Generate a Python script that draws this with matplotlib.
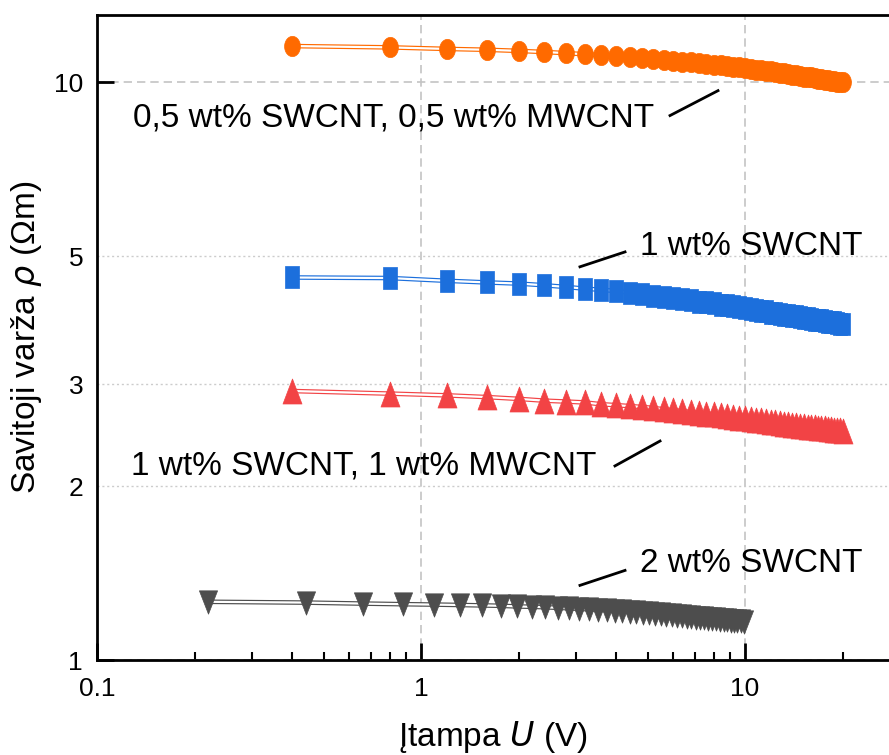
import numpy as np
import matplotlib
matplotlib.use("Agg")
import matplotlib.pyplot as plt
from matplotlib.path import Path
from matplotlib.ticker import FixedLocator, FixedFormatter, NullFormatter

plt.rcParams['font.family'] = ['Liberation Sans', 'DejaVu Sans']

# Voltage sweeps (V)
u_04 = [0.4, 0.8, 1.2, 1.6, 2.0, 2.4, 2.8, 3.2, 3.6, 4.0,
        4.4, 4.8, 5.2, 5.6, 6.0, 6.4, 6.8, 7.2, 7.6, 8.0,
        8.4, 8.8, 9.2, 9.6, 10.0, 10.4, 10.8, 11.2, 11.6, 12.0,
        12.4, 12.8, 13.2, 13.6, 14.0, 14.4, 14.8, 15.2, 15.6, 16.0,
        16.4, 16.8, 17.2, 17.6, 18.0, 18.4, 18.8, 19.2, 19.6, 20.0]
u_022 = [0.22, 0.44, 0.66, 0.88, 1.10, 1.32, 1.54, 1.76, 1.98, 2.20,
         2.42, 2.64, 2.86, 3.08, 3.30, 3.52, 3.74, 3.96, 4.18, 4.40,
         4.62, 4.84, 5.06, 5.28, 5.50, 5.72, 5.94, 6.16, 6.38, 6.60,
         6.82, 7.04, 7.26, 7.48, 7.70, 7.92, 8.14, 8.36, 8.58, 8.80,
         9.02, 9.24, 9.46, 9.68, 9.90]

# Bending resistivity (Ohm m)
rho_05_05 = [11.54, 11.48, 11.41, 11.37, 11.32, 11.27, 11.22, 11.17, 11.13, 11.08,
             11.04, 11.00, 10.95, 10.91, 10.88, 10.84, 10.81, 10.78, 10.75, 10.72,
             10.69, 10.66, 10.63, 10.60, 10.57, 10.54, 10.51, 10.48, 10.45, 10.43,
             10.40, 10.37, 10.35, 10.32, 10.30, 10.27, 10.25, 10.22, 10.20, 10.19,
             10.17, 10.14, 10.12, 10.10, 10.08, 10.06, 10.04, 10.02, 10.00, 9.99]
rho_1sw = [4.59, 4.58, 4.53, 4.50, 4.48, 4.45, 4.42, 4.39, 4.37, 4.35,
           4.32, 4.30, 4.27, 4.25, 4.23, 4.21, 4.19, 4.17, 4.16, 4.14,
           4.12, 4.11, 4.09, 4.08, 4.06, 4.05, 4.03, 4.02, 4.01, 3.99,
           3.98, 3.97, 3.96, 3.95, 3.94, 3.93, 3.92, 3.91, 3.90, 3.89,
           3.88, 3.87, 3.87, 3.86, 3.85, 3.84, 3.84, 3.83, 3.82, 3.82]
rho_1_1 = [2.92, 2.89, 2.87, 2.85, 2.83, 2.81, 2.80, 2.79, 2.77, 2.76,
           2.75, 2.74, 2.73, 2.715, 2.705, 2.695, 2.685, 2.675, 2.665, 2.66,
           2.65, 2.64, 2.635, 2.625, 2.62, 2.61, 2.605, 2.60, 2.59, 2.585,
           2.58, 2.57, 2.565, 2.56, 2.555, 2.55, 2.545, 2.54, 2.535, 2.53,
           2.525, 2.52, 2.52, 2.515, 2.51, 2.505, 2.50, 2.50, 2.495, 2.49]
rho_2sw = [1.261, 1.257, 1.252, 1.249, 1.247, 1.245, 1.243, 1.241, 1.238, 1.236,
           1.234, 1.231, 1.229, 1.226, 1.224, 1.222, 1.219, 1.217, 1.214, 1.212,
           1.209, 1.207, 1.204, 1.202, 1.199, 1.197, 1.194, 1.192, 1.190, 1.188,
           1.186, 1.184, 1.183, 1.181, 1.179, 1.178, 1.176, 1.175, 1.173, 1.172,
           1.170, 1.169, 1.167, 1.166, 1.165]

labels = ["0,5 wt% SWCNT, 0,5 wt% MWCNT", "1 wt% SWCNT",
          "1 wt% SWCNT, 1 wt% MWCNT", "2 wt% SWCNT"]
colors = ["#FF6A00", "#1C6FDC", "#F24345", "#4D4D4D"]

xticks = [0.1, 1, 10]
xticklabels = ["0.1", "1", "10"]
yticks_major = [1, 10]
yticks_minor = [2, 3, 5]


def ellipse_marker(aspect):
    t = np.linspace(0, 2 * np.pi, 48)
    return Path(np.column_stack([aspect * np.cos(t), np.sin(t)]), closed=True)


def rect_marker(aspect):
    return Path([(-aspect, -1), (aspect, -1), (aspect, 1), (-aspect, 1), (-aspect, -1)],
                closed=True)


def tri_marker(aspect, up=True):
    s = 1 if up else -1
    return Path([(0, s), (-aspect, -s), (aspect, -s), (0, s)], closed=True)


markers = [ellipse_marker(0.78), rect_marker(0.64), tri_marker(0.76, True),
           tri_marker(0.78, False)]
msizes = [14.6, 16.5, 18.0, 16.8]

W, H = 889, 755
fig = plt.figure(figsize=(W / 100, H / 100), dpi=100)
ax = fig.add_axes([97 / W, (H - 660) / H, 792 / W, (660 - 15) / H])
ax.set_xscale('log')
ax.set_yscale('log')
ax.set_xlim(0.1, 27.8)
ax.set_ylim(1, 13.06)

series = [(u_04, rho_05_05), (u_04, rho_1sw), (u_04, rho_1_1), (u_022, rho_2sw)]
for (u, r), c, m, ms in zip(series, colors, markers, msizes):
    # double connecting line: coloured stroke with a white core
    ax.plot(u, r, color=c, lw=3.3, zorder=2, solid_capstyle='butt')
    ax.plot(u, r, color='white', lw=1.6, zorder=2.1, solid_capstyle='butt')
    ax.plot(u, r, ls='none', marker=m, ms=ms, color=c, mec=c, mew=0.5, zorder=3)

# Axis styling
for side in ['left', 'bottom', 'top']:
    ax.spines[side].set_linewidth(2)
ax.spines['right'].set_visible(False)

ax.xaxis.set_major_locator(FixedLocator(xticks))
ax.xaxis.set_major_formatter(FixedFormatter(xticklabels))
ax.xaxis.set_minor_locator(FixedLocator([k * 10.0 ** e for e in (-1, 0, 1) for k in range(2, 10)]))
ax.xaxis.set_minor_formatter(NullFormatter())
ax.yaxis.set_major_locator(FixedLocator(yticks_major))
ax.yaxis.set_major_formatter(FixedFormatter([str(v) for v in yticks_major]))
ax.yaxis.set_minor_locator(FixedLocator(yticks_minor))
ax.yaxis.set_minor_formatter(FixedFormatter([str(v) for v in yticks_minor]))

ax.tick_params(axis='x', which='major', direction='in', length=12, width=2,
               labelsize=19, pad=12, top=False)
ax.tick_params(axis='x', which='minor', direction='in', length=6, width=1.5, top=False)
ax.tick_params(axis='y', which='major', direction='in', length=12, width=2,
               labelsize=19, pad=10, right=False)
ax.tick_params(axis='y', which='minor', direction='in', length=0, width=0,
               labelsize=19, pad=10, right=False)

ax.grid(True, which='major', axis='both', color='#C4C4C4', lw=1.2, ls=(0, (5, 3)))
ax.grid(True, which='minor', axis='y', color='#CCCCCC', lw=1.0, ls=(0, (1.5, 2)))
ax.grid(False, which='minor', axis='x')
ax.set_axisbelow(True)

ax.set_xlabel("Įtampa $\\mathit{U}$ (V)", fontsize=24, labelpad=13)
ax.set_ylabel("Savitoji varža $\\mathit{\\rho}$ (Ωm)", fontsize=24, labelpad=7)

# Series labels with leader lines (axes-fraction coordinates)
label_pos = [(0.0455, 0.841), (0.6856, 0.6404), (0.0429, 0.3009), (0.6856, 0.1497)]
leaders = [((0.7235, 0.8441), (0.7841, 0.8827)),
           ((0.6098, 0.6096), (0.6667, 0.6327)),
           ((0.6540, 0.3009), (0.7109, 0.3395)),
           ((0.6098, 0.1157), (0.6667, 0.1389))]
for txt, (tx, ty), (p0, p1) in zip(labels, label_pos, leaders):
    ax.text(tx, ty, txt, transform=ax.transAxes, fontsize=24, ha='left', va='center')
    ax.plot([p0[0], p1[0]], [p0[1], p1[1]], transform=ax.transAxes, color='black',
            lw=2, zorder=4, clip_on=False)

fig.savefig("out.png", dpi=100)
